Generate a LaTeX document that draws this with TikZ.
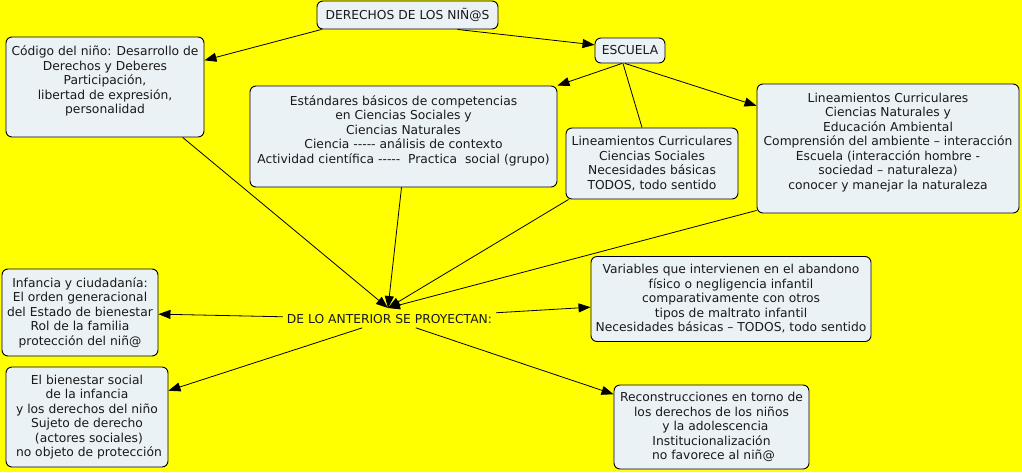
\documentclass[tikz,border=0pt]{standalone}
\usepackage{fontspec}
\setmainfont{DejaVu Sans}
\usetikzlibrary{arrows.meta,calc}
\definecolor{bg}{RGB}{255,255,0}
\definecolor{boxfill}{RGB}{235,242,245}
\newcommand{\fivedash}{-{}-{}-{}-{}-}
\begin{document}
\begin{tikzpicture}[x=1pt,y=-1pt,
  every node/.style={font=\fontsize{12.3}{14.5}\selectfont, inner sep=0pt, align=center, text=black!90},
  box/.style={draw=black, line width=0.9pt, fill=boxfill, rounded corners=6pt},
  conn/.style={line width=0.8pt, draw=black},
  arr/.style={conn, -{Triangle[length=12pt,width=9pt]}}]

\fill[bg] (0,0) rectangle (1022,472);
\useasboundingbox (0,0) rectangle (1022,472);

\node[box, minimum width=181pt, minimum height=28pt] (derechos) at (407.5,15) {DERECHOS DE LOS NIÑ@S};

\node[box, minimum width=198pt, minimum height=100pt] (codigo) at (105,87)
  {Código del niño: Desarrollo de\\ Derechos y Deberes\\ Participación,\\ libertad de expresión,\\ personalidad\\ \mbox{}};

\node[box, minimum width=70pt, minimum height=25pt] (escuela) at (630,50.5) {ESCUELA};

\node[box, minimum width=307pt, minimum height=101pt] (estandares) at (403.5,136.5)
  {Estándares básicos de competencias\\ en Ciencias Sociales y\\ Ciencias Naturales\\ Ciencia \fivedash{} análisis de contexto\\ Actividad científica \fivedash~~Practica~~social (grupo)\\ \mbox{}};

\node[box, minimum width=172pt, minimum height=71pt] (cs) at (652,163.5)
  {Lineamientos Curriculares\\ Ciencias Sociales\\ Necesidades básicas\\ TODOS, todo sentido};

\node[box, minimum width=262pt, minimum height=129pt] (cn) at (888,148.5)
  {Lineamientos Curriculares\\ Ciencias Naturales y\\ Educación Ambiental\\ Comprensión del ambiente – interacción\\ Escuela (interacción hombre -\\ sociedad – naturaleza)\\ conocer y manejar la naturaleza\\ \mbox{}};

\node[box, minimum width=156pt, minimum height=87pt] (infancia) at (80,312.5)
  {Infancia y ciudadanía:\\ El orden generacional\\ del Estado de bienestar\\ Rol de la familia\\ protección del niñ@};

\node[box, minimum width=162pt, minimum height=100pt] (bienestar) at (87,417)
  {El bienestar social\\ de la infancia\\ y los derechos del niño\\ Sujeto de derecho\\ ~(actores sociales)\\ ~no objeto de protección};

\node[inner sep=4pt] (delo) at (389.5,319) {DE LO ANTERIOR SE PROYECTAN:};
\coordinate (hub) at (388,308);

\node[box, minimum width=280pt, minimum height=85pt] (variables) at (731,299)
  {Variables que intervienen en el abandono\\ físico o negligencia infantil\\ comparativamente con otros\\ tipos de maltrato infantil\\ Necesidades básicas – TODOS, todo sentido};

\node[box, minimum width=195pt, minimum height=84pt] (recon) at (711.5,427)
  {Reconstrucciones en torno de\\ los derechos de los niños\\ ~~y la adolescencia\\ Institucionalización\\ ~no favorece al niñ@};

% connectors
\draw[arr] ($(derechos.south west)+(5,0)$) -- (codigo.15);
\draw[arr] ($(derechos.south)+(50,0)$) -- (escuela.171);
\draw[arr] ($(escuela.south)+(-8,0)$) -- (estandares.north east);
\draw[conn] ($(escuela.south)+(-7,0)$) -- ($(cs.north)+(-10,0)$);
\draw[arr] ($(escuela.south)+(-5,0)$) -- (cn.162);

\draw[arr] (codigo.-33) -- (hub);
\draw[arr] ($(estandares.south)+(-2,0)$) -- (hub);
\draw[arr] ($(cs.south west)+(3,0)$) -- (hub);
\draw[arr] ($(cn.south west)+(0,-3)$) -- (hub);

\draw[arr] (delo) -- (infancia);
\draw[arr] (delo) -- (bienestar);
\draw[arr] (delo) -- (variables);
\draw[arr] (delo) -- (recon);
\end{tikzpicture}
\end{document}
